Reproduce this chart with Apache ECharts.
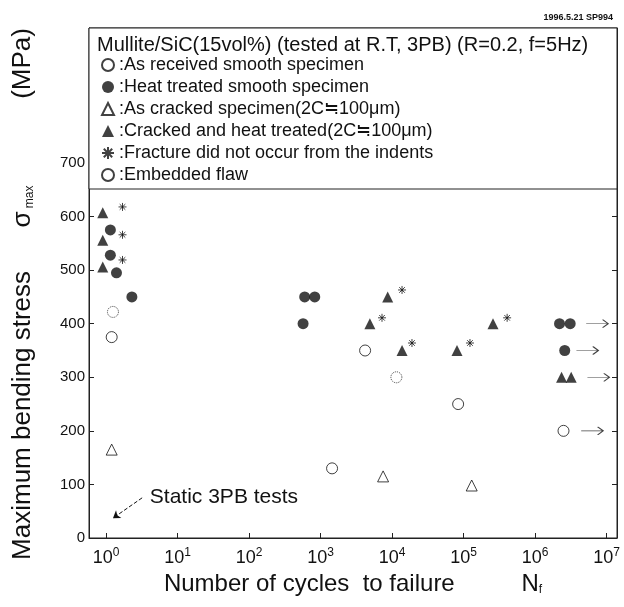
<!DOCTYPE html>
<html>
<head>
<meta charset="utf-8">
<script src="https://cdn.jsdelivr.net/npm/echarts@6/dist/echarts.min.js"></script>
<style>
html, body { margin: 0; padding: 0; background: #fff; }
#chart { width: 624px; height: 607px; }
</style>
</head>
<body>
<div id="chart"></div>
<script>
// 数据：[循环次数 N, 最大弯曲应力 MPa]
const asReceived = [[1.2, 375], [1450, 130], [4200, 350], [84000, 250], [2.5e6, 200]];
const heatTreated = [[1.15, 575], [1.15, 528], [1.4, 495], [2.3, 450], [600, 450], [830, 450],
    [570, 400], [2.2e6, 400], [3.1e6, 400], [2.6e6, 350]];
const asCracked = [[1.2, 165], [7500, 115], [130000, 98]];
const crackedHeat = [[0.9, 607], [0.9, 556], [0.9, 506], [8700, 450], [4900, 400], [13800, 350],
    [81000, 350], [258000, 400], [2.35e6, 300], [3.2e6, 300]];
const noIndent = [[1.7, 618], [1.7, 566], [1.7, 519], [13800, 463], [7240, 411], [19000, 364],
    [123000, 364], [407000, 411]];
const embedded = [[1.25, 422], [11500, 300]];
// 未破断（run-out）箭头
const runouts = [[7.4e6, 400], [5.4e6, 350], [7.7e6, 300], [6.3e6, 200]];

// 静态 3PB 试验的标注
const staticArrowFrom = [3.2, 75];
const staticArrowTo = [1.25, 37];
const staticLabelAt = [4.1, 77];

const legendNames = [
    ':As received smooth specimen',
    ':Heat treated smooth specimen',
    ':As cracked specimen(2C\u2252100\u03bcm)',
    ':Cracked and heat treated(2C\u2252100\u03bcm)',
    ':Fracture did not occur from the indents',
    ':Embedded flaw'
];
const titleText = 'Mullite/SiC(15vol%) (tested at R.T, 3PB) (R=0.2, f=5Hz)';
const stampText = '1996.5.21 SP994';

const xMin = 0.578, xMax = 1.4e7;
const yMax = 952, yLabelMax = 700;

const FONT = 'Liberation Sans';
const INK = '#111';

const asteriskPath = 'path://M0,5L10,5M5,0L5,10M1.5,1.5L8.5,8.5M8.5,1.5L1.5,8.5';
const arrowPath = 'path://M0,5L24,5M18,1L24,5L18,9';

const myChart = echarts.init(document.getElementById('chart'));

const option = {
    animation: false,
    textStyle: { fontFamily: FONT, color: INK },
    title: [
        {
            text: titleText, left: 92, top: 30, z: 10,
            textStyle: { fontFamily: FONT, fontSize: 20, fontWeight: 'normal', color: INK }
        },
        {
            text: stampText, right: 6, top: 8, z: 10,
            textStyle: { fontFamily: FONT, fontSize: 9, fontWeight: 'bold', color: INK }
        }
    ],
    legend: {
        orient: 'vertical',
        left: 96, top: 51,
        itemWidth: 12, itemHeight: 12,
        itemGap: 4,
        z: 10,
        selectedMode: false,
        textStyle: { fontFamily: FONT, fontSize: 18, color: INK, lineHeight: 18 },
        data: legendNames
    },
    graphic: [{
        type: 'rect', z: 5,
        shape: { x: 89, y: 28, width: 528, height: 161 },
        style: { fill: '#fff', stroke: '#222', lineWidth: 1 }
    }],
    grid: {
        left: 89, right: 7, top: 28, bottom: 69,
        show: true, borderColor: '#222', borderWidth: 1
    },
    xAxis: {
        type: 'log', logBase: 10, min: xMin, max: xMax,
        name: '{n|Number of cycles  to failure          N}{f|f}',
        nameLocation: 'middle', nameGap: 34,
        nameTextStyle: {
            fontFamily: FONT, color: INK,
            rich: {
                n: { fontFamily: FONT, fontSize: 24, color: INK },
                f: { fontFamily: FONT, fontSize: 12, color: INK, verticalAlign: 'bottom', padding: [10, 0, 0, 0] }
            }
        },
        axisLine: { lineStyle: { color: '#222' } },
        axisTick: { inside: true, length: 5, lineStyle: { color: '#222' } },
        splitLine: { show: false },
        axisLabel: {
            margin: 9,
            formatter: function (v) {
                const p = Math.log10(v);
                if (Math.abs(p - Math.round(p)) > 1e-6) return '';
                return '{b|10}{s|' + Math.round(p) + '}';
            },
            rich: {
                b: { fontFamily: FONT, fontSize: 18, color: INK, lineHeight: 22 },
                s: { fontFamily: FONT, fontSize: 12, color: INK, verticalAlign: 'top', lineHeight: 12 }
            }
        }
    },
    yAxis: [
        {
            type: 'value', min: 0, max: yMax, interval: 100,
            name: '{t|Maximum bending stress      \u03c3}{s| max}{e|            (MPa)}',
            nameLocation: 'middle', nameGap: 53,
            nameTextStyle: {
                fontFamily: FONT, color: INK,
                rich: {
                    t: { fontFamily: FONT, fontSize: 26, color: INK },
                    s: { fontFamily: FONT, fontSize: 12, color: INK, verticalAlign: 'bottom', padding: [10, 0, 0, 0] },
                    e: { fontFamily: FONT, fontSize: 26, color: INK, padding: [0, 22, 0, 0] }
                }
            },
            axisLine: { show: true, lineStyle: { color: '#222' } },
            axisTick: { show: true, inside: true, length: 5, lineStyle: { color: '#222' } },
            splitLine: { show: false },
            axisLabel: {
                fontFamily: FONT, fontSize: 15, color: INK, margin: 4,
                showMaxLabel: false,
                formatter: function (v) { return v <= yLabelMax ? String(v) : ''; }
            }
        },
        {
            type: 'value', min: 0, max: yMax, interval: 100, position: 'right',
            axisLine: { show: true, lineStyle: { color: '#222' } },
            axisTick: { show: true, inside: true, length: 5, lineStyle: { color: '#222' } },
            axisLabel: { show: false },
            splitLine: { show: false }
        }
    ],
    series: [
        {
            name: legendNames[0], type: 'scatter', data: asReceived, clip: false,
            symbol: 'circle', symbolSize: 11,
            itemStyle: { color: '#fff', borderColor: INK, borderWidth: 1 }
        },
        {
            name: legendNames[1], type: 'scatter', data: heatTreated, clip: false,
            symbol: 'circle', symbolSize: 11,
            itemStyle: { color: INK }
        },
        {
            name: legendNames[2], type: 'scatter', data: asCracked, clip: false,
            symbol: 'triangle', symbolSize: 11,
            itemStyle: { color: '#fff', borderColor: INK, borderWidth: 1 },
            markLine: {
                silent: true,
                symbol: ['none', 'arrow'], symbolSize: 7,
                lineStyle: { type: 'dashed', color: INK, width: 1 },
                label: { show: false },
                data: [[{ coord: staticArrowFrom }, { coord: staticArrowTo }]]
            },
            markPoint: {
                silent: true,
                symbol: 'circle', symbolSize: 0,
                label: {
                    show: true, position: 'right', distance: 0,
                    fontFamily: FONT, fontSize: 21, color: INK,
                    formatter: 'Static 3PB tests'
                },
                data: [{ coord: staticLabelAt }]
            }
        },
        {
            name: legendNames[3], type: 'scatter', data: crackedHeat, clip: false,
            symbol: 'triangle', symbolSize: 11,
            itemStyle: { color: INK }
        },
        {
            name: legendNames[4], type: 'scatter', data: noIndent, clip: false,
            symbol: asteriskPath, symbolSize: 8,
            itemStyle: { color: 'transparent', borderColor: INK, borderWidth: 1 }
        },
        {
            name: legendNames[5], type: 'scatter', data: embedded, clip: false,
            symbol: 'circle', symbolSize: 11,
            itemStyle: { color: '#fff', borderColor: INK, borderWidth: 1, borderType: 'dotted' }
        },
        {
            name: 'run-out', type: 'scatter', data: runouts, clip: false,
            symbol: arrowPath, symbolSize: [22, 8],
            itemStyle: { color: 'transparent', borderColor: INK, borderWidth: 1 }
        }
    ]
};

option && myChart.setOption(option);
</script>
</body>
</html>
